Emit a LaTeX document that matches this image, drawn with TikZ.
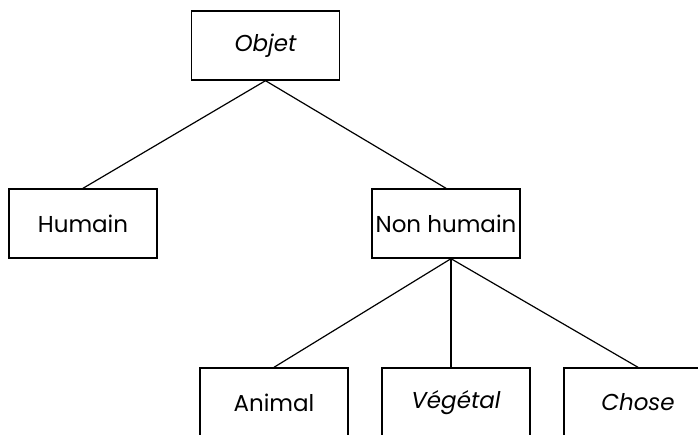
\documentclass[tikz,border=0pt]{standalone}
\usepackage{fontspec}
\setmainfont{Poppins}

\begin{document}
\begin{tikzpicture}[x=1pt, y=-1pt]
	\useasboundingbox (0,0) rectangle (698,435);
	\begin{scope}
	\tikzstyle{every node}=[draw, line width=1.4pt, minimum width=148pt, minimum height=69pt, inner sep=1pt, font=\fontsize{23}{26}\selectfont]
	\tikzstyle{hand}=[font=\fontsize{23}{26}\selectfont\itshape]
		\node (objet) at (265.5, 45.5) [hand] {Objet};
		\node (humain) at (83, 223.5) {Humain};
		\node (nonhum) at (446, 223.5) {Non humain};
		\node (animal) at (274, 402.5) {Animal};
		\node (vegetal) at (456, 402.5) [hand] {Végétal};
		\node (chose) at (638, 402.5) [hand] {Chose};

		\draw[line width=1.2pt]  (objet.south) to (humain.north);
		\draw[line width=1.2pt]  (objet.south) to (nonhum.north);
		\draw[line width=1.2pt]  ([xshift=5pt]nonhum.south) to (animal.north);
		\draw[line width=1.2pt]  ([xshift=5pt]nonhum.south) to ([xshift=5pt]nonhum.south |- vegetal.north);
		\draw[line width=1.2pt]  ([xshift=5pt]nonhum.south) to (chose.north);
	\end{scope}
\end{tikzpicture}
\end{document}
